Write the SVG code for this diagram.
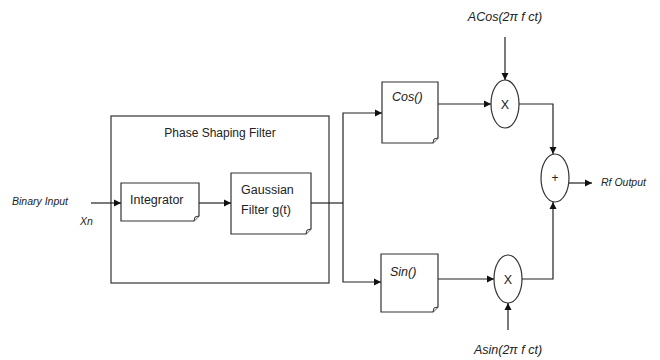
<svg xmlns="http://www.w3.org/2000/svg" width="660" height="360" viewBox="0 0 660 360">
<defs>
<marker id="arr" markerWidth="8" markerHeight="8" refX="7" refY="4" orient="auto" markerUnits="userSpaceOnUse">
<path d="M0,0.5 L7,4 L0,7.5 Z" fill="#111"/>
</marker>
<style>
.box{fill:#fff;stroke:#333;stroke-width:1.2}
.fold{fill:#fff;stroke:#333;stroke-width:1}
.ln{fill:none;stroke:#222;stroke-width:1.2}
.t{font-family:"Liberation Sans",Arial,sans-serif;fill:#222}
.it{font-family:"Liberation Sans",Arial,sans-serif;font-style:italic;fill:#222}
</style>
</defs>
<rect width="660" height="360" fill="#fff"/>
<g id="phase-shaping-filter">
<rect class="box" x="111" y="116" width="218" height="167"/>
<text class="t" x="220" y="137" font-size="12" text-anchor="middle">Phase Shaping Filter</text>
</g>
<g id="binary-input">
<text class="it" x="12" y="205" font-size="10.5">Binary Input</text>
<text class="it" x="80" y="225" font-size="10.5">Xn</text>
</g>
<g id="integrator">
<path class="box" d="M121,183 H199 V216 L194,221 H121 Z"/>
<path class="fold" d="M199,216 L195,217 L194,221"/>
<text class="t" x="130" y="204" font-size="12.5">Integrator</text>
</g>
<g id="gaussian">
<path class="box" d="M231,173 H311 V229 L306,234 H231 Z"/>
<path class="fold" d="M311,229 L307,230 L306,234"/>
<text class="t" x="241" y="194" font-size="12.5">Gaussian</text>
<text class="t" x="241" y="214" font-size="12.5">Filter g(t)</text>
</g>
<g id="cos">
<path class="box" d="M382,82 H438 V138 L433,143 H382 Z"/>
<path class="fold" d="M438,138 L434,139 L433,143"/>
<text class="it" x="392" y="101" font-size="12.5">Cos()</text>
</g>
<g id="sin">
<path class="box" d="M381,254 H438 V307 L433,312 H381 Z"/>
<path class="fold" d="M438,307 L434,308 L433,312"/>
<text class="it" x="390" y="276" font-size="12.5">Sin()</text>
</g>
<g id="mult-cos">
<ellipse class="box" cx="505" cy="104" rx="14" ry="24"/>
<text class="t" x="505" y="109" font-size="12.5" text-anchor="middle">X</text>
<text class="it" x="505" y="21" font-size="12.5" text-anchor="middle">ACos(2π f ct)</text>
</g>
<g id="mult-sin">
<ellipse class="box" cx="508" cy="279" rx="14" ry="24"/>
<text class="t" x="508" y="284" font-size="12.5" text-anchor="middle">X</text>
<text class="it" x="508" y="354" font-size="12.5" text-anchor="middle">Asin(2π f ct)</text>
</g>
<g id="sum">
<ellipse class="box" cx="555" cy="178" rx="14" ry="24"/>
<text class="t" x="555" y="182" font-size="12" text-anchor="middle">+</text>
<text class="it" x="601" y="186" font-size="10.5">Rf Output</text>
</g>
<g id="connectors">
<line class="ln" x1="91" y1="203" x2="121" y2="203" marker-end="url(#arr)"/>
<line class="ln" x1="199" y1="203" x2="231" y2="203" marker-end="url(#arr)"/>
<line class="ln" x1="311" y1="203" x2="343" y2="203"/>
<polyline class="ln" points="343,203 343,113 382,113" marker-end="url(#arr)"/>
<polyline class="ln" points="343,203 343,282 381,282" marker-end="url(#arr)"/>
<line class="ln" x1="438" y1="104" x2="491" y2="104" marker-end="url(#arr)"/>
<line class="ln" x1="438" y1="279" x2="494" y2="279" marker-end="url(#arr)"/>
<line class="ln" x1="505" y1="37" x2="505" y2="80" marker-end="url(#arr)"/>
<line class="ln" x1="508" y1="330" x2="508" y2="303" marker-end="url(#arr)"/>
<polyline class="ln" points="519,104 553,104 553,154" marker-end="url(#arr)"/>
<polyline class="ln" points="522,279 553,279 553,202" marker-end="url(#arr)"/>
<line class="ln" x1="569" y1="183" x2="592" y2="183" marker-end="url(#arr)"/>
</g>
</svg>
